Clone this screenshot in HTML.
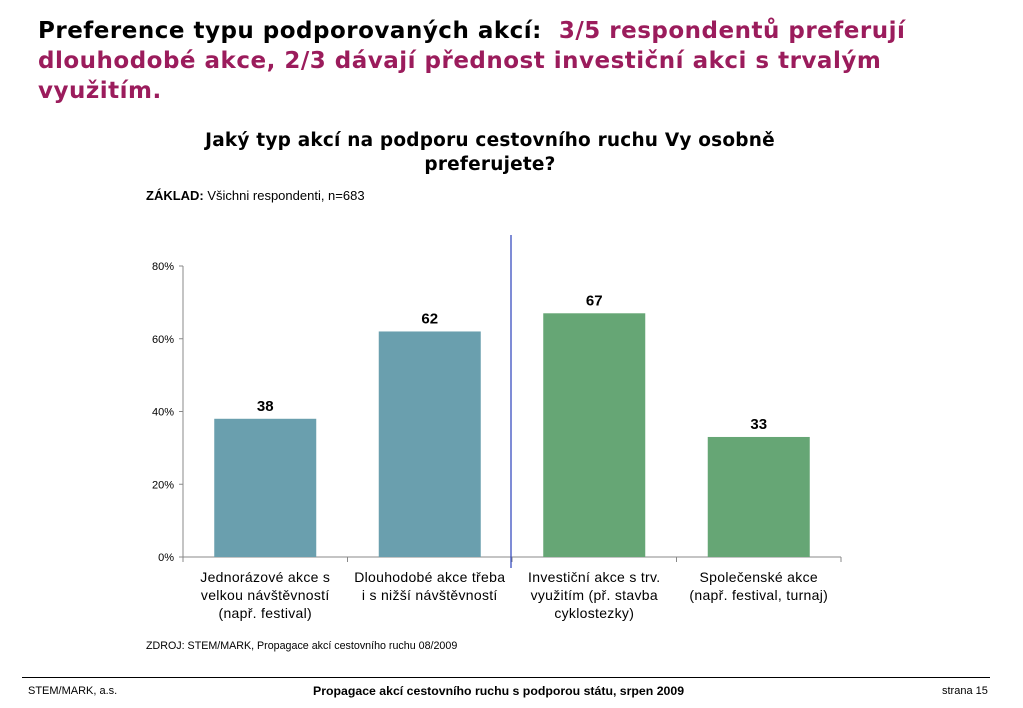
<!DOCTYPE html>
<html><head><meta charset="utf-8"><style>
body{margin:0;width:1023px;height:708px;background:#fff;font-family:"Liberation Sans",sans-serif;position:relative;overflow:hidden}
.t{position:absolute}
</style></head><body>
<div class="t" style="left:38px;top:16px;width:910px;font-family:'DejaVu Sans',sans-serif;font-weight:bold;font-size:23px;line-height:30px;letter-spacing:0.5px;color:#000">Preference typu podporovaných akcí: &nbsp;<span style="color:#9b1c5c">3/5 respondentů preferují dlouhodobé akce, 2/3 dávají přednost investiční akci s trvalým využitím.</span></div>
<div class="t" style="left:170px;top:129px;width:640px;text-align:center;font-family:'DejaVu Sans',sans-serif;font-weight:bold;font-size:18.5px;line-height:24px;letter-spacing:0.2px">Jaký typ akcí na podporu cestovního ruchu Vy osobně preferujete?</div>
<div class="t" style="left:146px;top:188px;font-size:13px"><b>ZÁKLAD:</b> Všichni respondenti, n=683</div>
<svg class="t" style="left:0;top:0" width="1023" height="708">
<g id="g"></g>
</svg>
<div class="t" style="left:146px;top:640px;font-size:10.7px">ZDROJ: STEM/MARK, Propagace akcí cestovního ruchu 08/2009</div>
<div class="t" style="left:22px;top:677px;width:968px;height:1px;background:#000"></div>
<div class="t" style="left:28px;top:685px;font-size:11px">STEM/MARK, a.s.</div>
<div class="t" style="left:313px;top:684px;font-size:12.3px;font-weight:bold">Propagace akcí cestovního ruchu s podporou státu, srpen 2009</div>
<div class="t" style="left:942px;top:685px;font-size:11px">strana 15</div>
<script>
const categories=[["Jednorázové akce s","velkou návštěvností","(např. festival)"],["Dlouhodobé akce třeba","i s nižší návštěvností"],["Investiční akce s trv.","využitím (př. stavba","cyklostezky)"],["Společenské akce","(např. festival, turnaj)"]];
const values=[38,62,67,33];
const colors=["#6a9fae","#6a9fae","#66a675","#66a675"];
const ticks=[0,20,40,60,80];
const ns="http://www.w3.org/2000/svg",g=document.getElementById("g");
const x0=183,x1=841,y0=557,yTop=266;
const y=v=>y0-(v/80)*(y0-yTop);
const cw=(x1-x0)/values.length;
function mk(t,a,txt){const e=document.createElementNS(ns,t);for(const k in a)e.setAttribute(k,a[k]);if(txt!=null)e.textContent=txt;g.appendChild(e);return e;}
let e=mk("line",{x1:x0,y1:y0,x2:x0,y2:yTop,stroke:"#888"});


e=mk("line",{x1:x0,y1:y0,x2:x1,y2:y0,stroke:"#888"});


ticks.forEach(t=>{
 mk("line",{x1:x0-4,y1:y(t),x2:x0,y2:y(t),stroke:"#888"});
 e=mk("text",{x:x0-9,y:y(t)+4,"text-anchor":"end","font-size":11,"font-family":"Liberation Sans"},t+"%");
 
 
});
for(let i=0;i<=values.length;i++)mk("line",{x1:x0+i*cw,y1:y0,x2:x0+i*cw,y2:y0+5,stroke:"#888"});
values.forEach((v,i)=>{
 const cx=x0+cw*(i+0.5);
 e=mk("rect",{x:cx-51,y:y(v),width:102,height:y0-y(v),fill:colors[i]});
 
 
 e=mk("text",{x:cx,y:y(v)-8,"text-anchor":"middle","font-size":15,"font-weight":"bold","font-family":"Liberation Sans"},v);
 
 
 categories[i].forEach((l,j)=>{
  e=mk("text",{x:cx,y:582+j*18,"text-anchor":"middle","font-size":14,"letter-spacing":"0.3","font-family":"Liberation Sans"},l);
  
  
 });
});
e=mk("line",{x1:511,y1:235,x2:511,y2:568,stroke:"#3a4fc0","stroke-width":1.3});


</script>
</body></html>
